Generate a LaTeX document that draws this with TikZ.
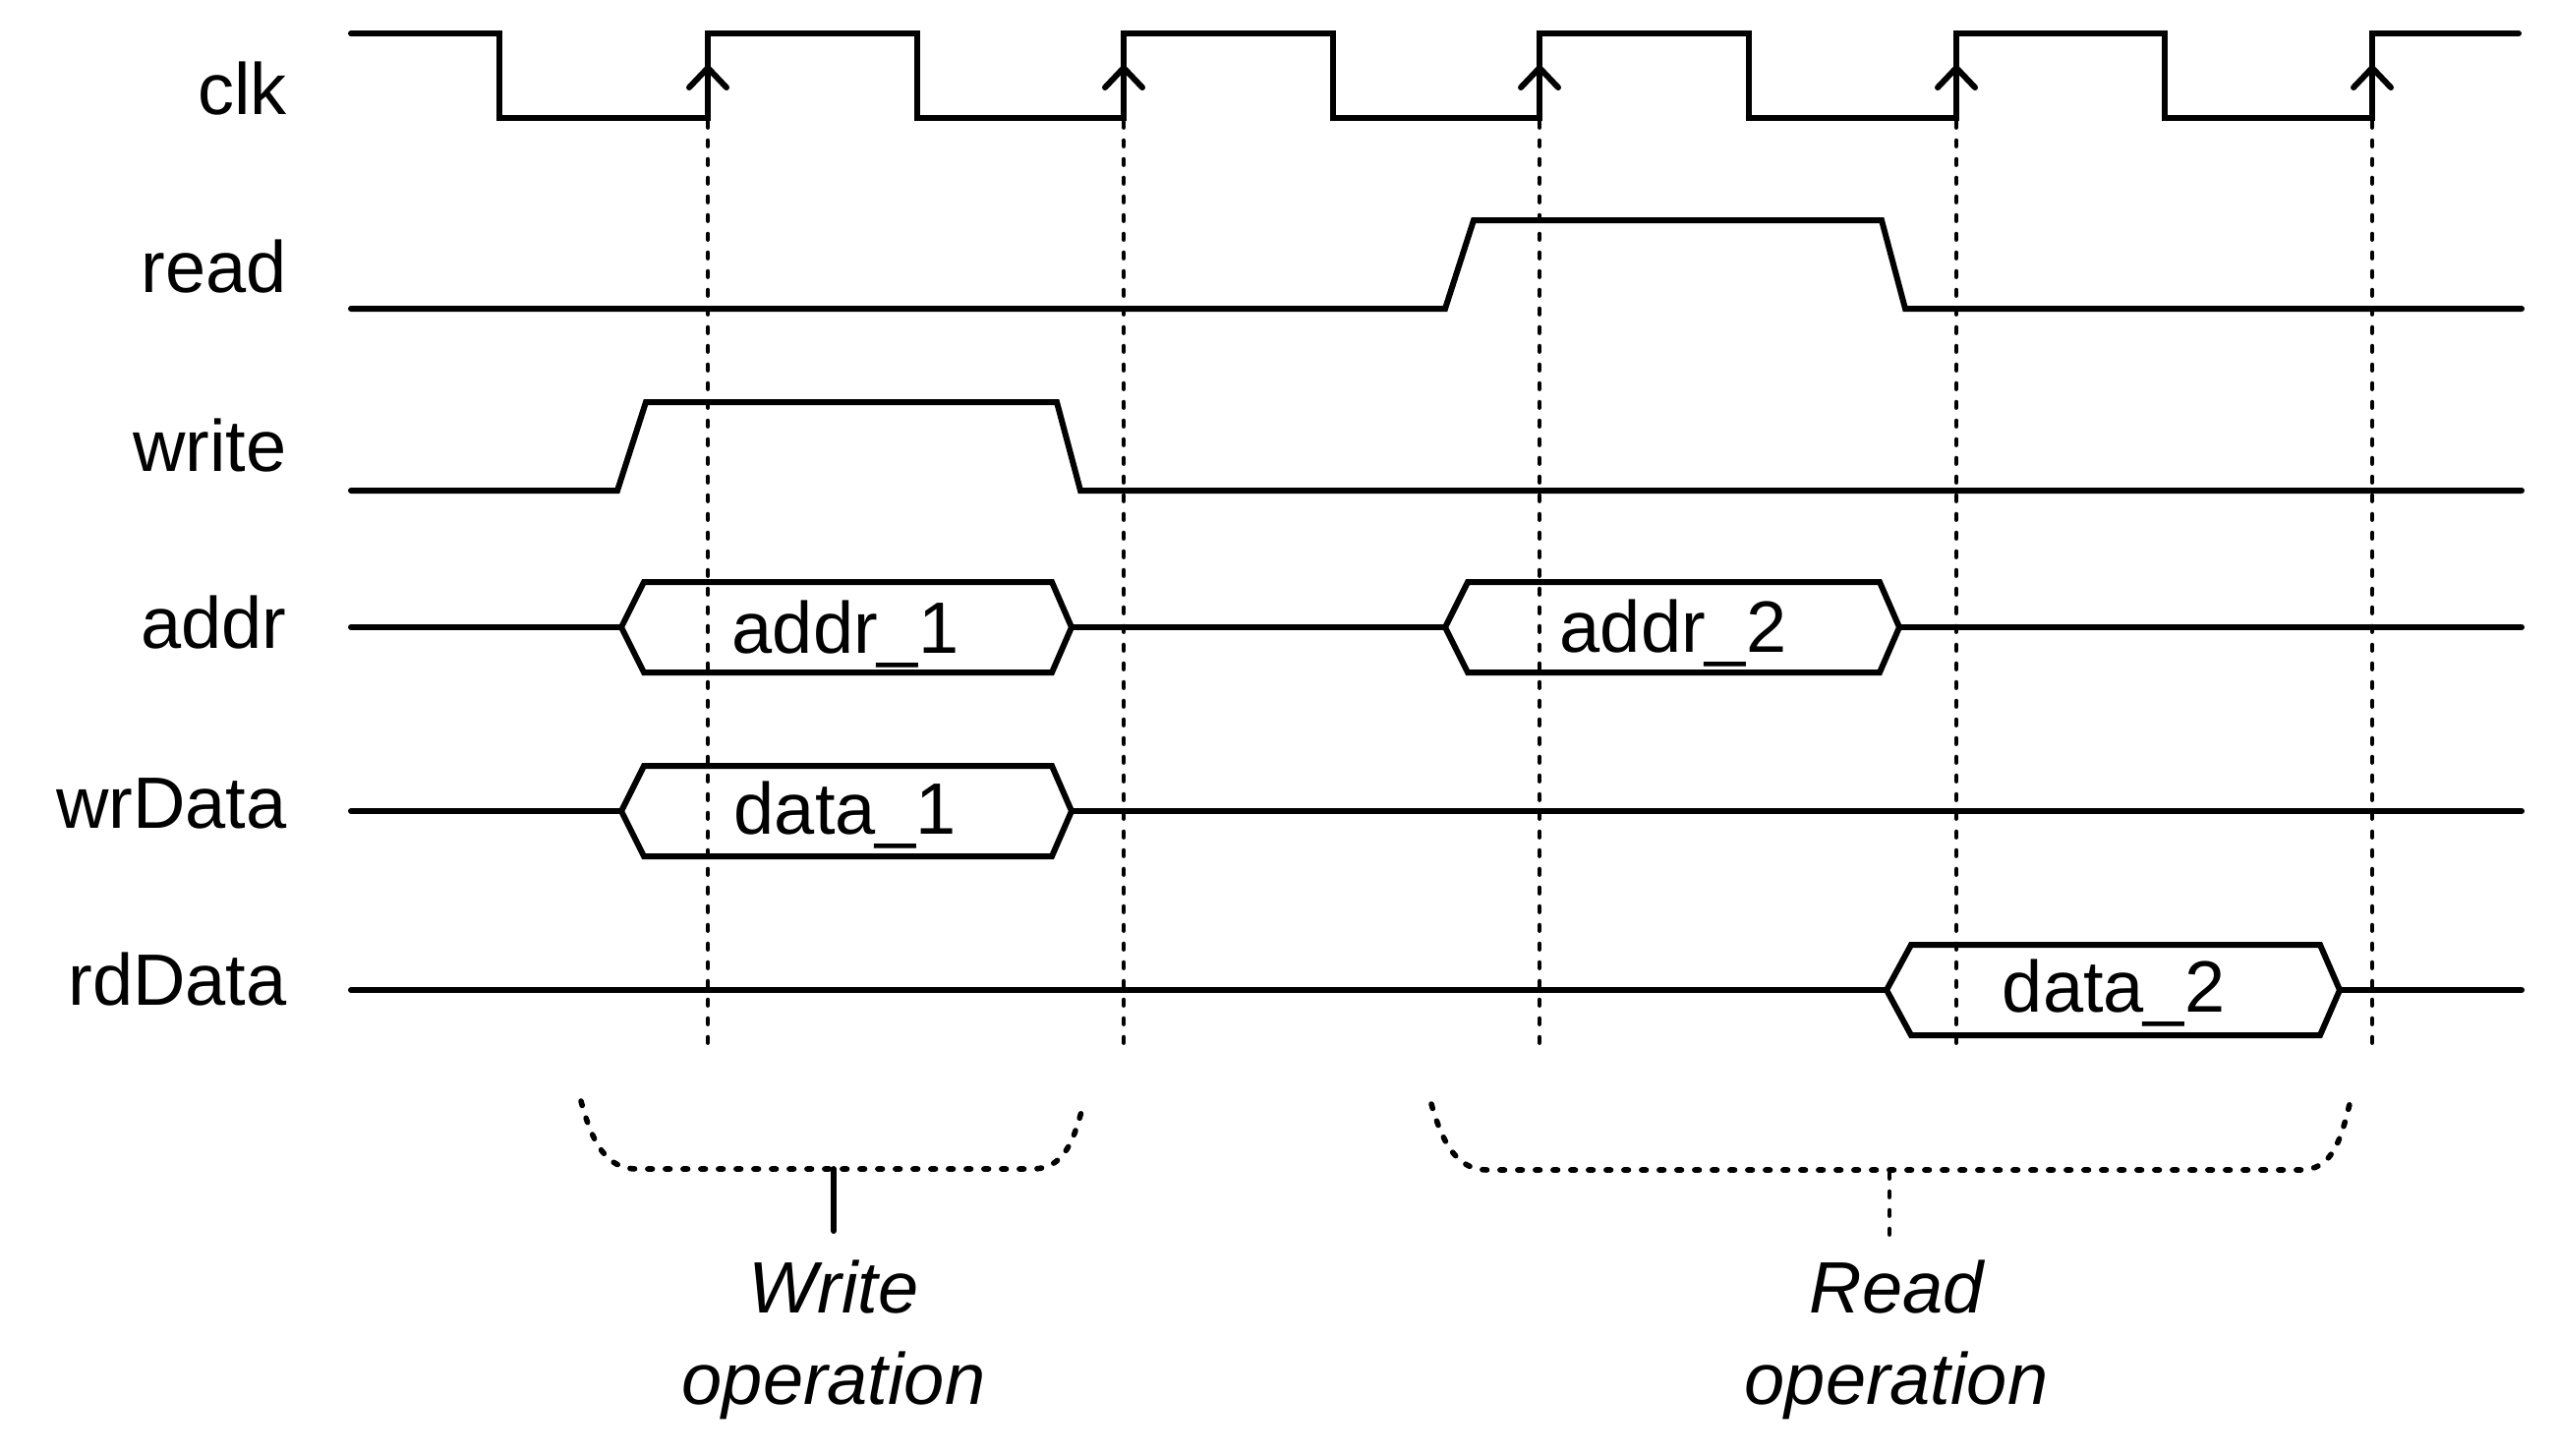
\documentclass[tikz,border=0pt]{standalone}
\usepackage{fontspec}
\setmainfont{Liberation Sans}
\begin{document}
\begin{tikzpicture}[x=0.5pt,y=-0.5pt,
  sig/.style={line width=3pt,line join=miter,line cap=round},
  guide/.style={line width=2.3pt,line cap=round,dash pattern=on 2.8pt off 6.7pt},
  dotbrace/.style={line width=2.8pt,line cap=round,dash pattern=on 2.3pt off 6.7pt},
  lbl/.style={anchor=base east,inner sep=0pt,font=\fontsize{37}{44}\selectfont},
  val/.style={anchor=base,inner sep=0pt,font=\fontsize{37}{44}\selectfont},
  op/.style={anchor=base,inner sep=0pt,font=\fontsize{37}{44}\selectfont\itshape}]
\useasboundingbox (0,0) rectangle (2600,1480);

% labels
\node[lbl] (lclk) at (292,116) {clk};
\node[lbl] (lread) at (292,297) {read};
\node[lbl] (lwrite) at (292,479) {write};
\node[lbl] (laddr) at (292,659) {addr};
\node[lbl] (lwr) at (292,842) {wrData};
\node[lbl] (lrd) at (292,1022) {rdData};

% dashed guides at rising edges
\foreach \x in {720,1143,1566,1990,2413}
  \draw[guide] (\x,124) -- (\x,1062);

% clk
\draw[sig] (357,34) -- (508,34) -- (508,120) -- (720,120) -- (720,34)
  -- (933,34) -- (933,120) -- (1143,120) -- (1143,34)
  -- (1356,34) -- (1356,120) -- (1566,120) -- (1566,34)
  -- (1779,34) -- (1779,120) -- (1990,120) -- (1990,34)
  -- (2202,34) -- (2202,120) -- (2413,120) -- (2413,34) -- (2562,34);
\foreach \x in {720,1143,1566,1990,2413}
  \draw[sig,line join=round] (\x-19,89) -- (\x,69) -- (\x+19,89);

% read
\draw[sig] (357,314) -- (1470,314) -- (1499,224) -- (1914,224) -- (1938,314) -- (2565,314);
% write
\draw[sig] (357,499) -- (628,499) -- (657,409) -- (1075,409) -- (1099,499) -- (2565,499);

% addr
\draw[sig] (357,638) -- (632,638);
\draw[sig] (632,638) -- (655,592) -- (1070,592) -- (1090,638) -- (1070,684) -- (655,684) -- cycle;
\draw[sig] (1090,638) -- (1470,638);
\draw[sig] (1470,638) -- (1493,592) -- (1912,592) -- (1932,638) -- (1912,684) -- (1493,684) -- cycle;
\draw[sig] (1932,638) -- (2565,638);
\node[val] (a1) at (860,664) {addr\_1};
\node[val] (a2) at (1702,663) {addr\_2};

% wrData
\draw[sig] (357,825) -- (632,825);
\draw[sig] (632,825) -- (655,779) -- (1070,779) -- (1090,825) -- (1070,871) -- (655,871) -- cycle;
\draw[sig] (1090,825) -- (2565,825);
\node[val] (d1) at (860,848) {data\_1};

% rdData
\draw[sig] (357,1007) -- (1919,1007);
\draw[sig] (1919,1007) -- (1944,961) -- (2360,961) -- (2380,1007) -- (2360,1053) -- (1944,1053) -- cycle;
\draw[sig] (2380,1007) -- (2565,1007);
\node[val] (d2) at (2150,1029) {data\_2};

% braces
\draw[dotbrace] (591,1120) .. controls (603,1165) and (618,1189) .. (648,1189) -- (1050,1189)
  .. controls (1080,1189) and (1091,1165) .. (1101,1127);
\draw[line width=3pt,line cap=round] (848,1189) -- (848,1252);
\draw[dotbrace] (1456,1123) .. controls (1468,1165) and (1483,1190) .. (1513,1190) -- (2340,1190)
  .. controls (2370,1190) and (2380,1165) .. (2390,1123);
\draw[guide] (1922,1193) -- (1922,1257);

\node[op] (w1) at (848,1335) {Write};
\node[op] (w2) at (848,1428) {operation};
\node[op] (r1) at (1929,1335) {Read};
\node[op] (r2) at (1929,1428) {operation};
\end{tikzpicture}
\end{document}
